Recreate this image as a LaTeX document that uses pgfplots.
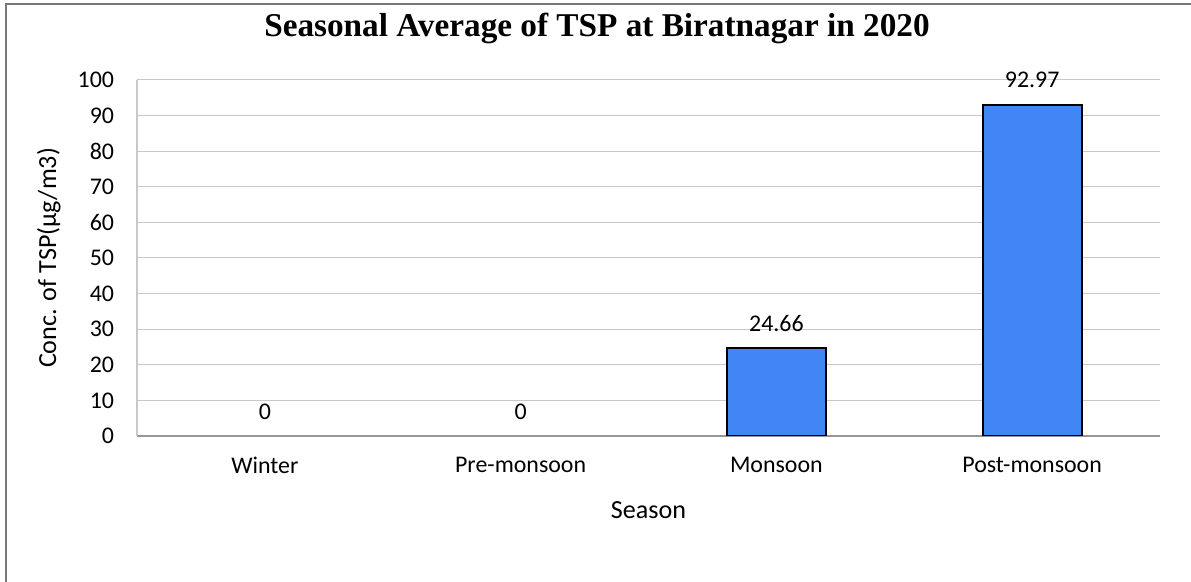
\documentclass[border=0pt]{standalone}
\usepackage{fontspec}
\setmainfont{Carlito}
\newfontfamily\titlefont{Liberation Serif}
\usepackage{pgfplots}
\pgfplotsset{compat=1.18}
\definecolor{barblue}{RGB}{66,133,244}
\definecolor{gridgray}{RGB}{200,200,200}
\definecolor{axisgray}{RGB}{150,150,150}

\begin{document}
\begin{tikzpicture}[x=0.46pt,y=0.46pt]
\useasboundingbox (0,0) rectangle (1191,582);
% chart frame (cut off at right and bottom)
\draw[axisgray!80!black, line width=0.6pt] (6,-5) -- (6,578) -- (1200,578);
\node[font=\titlefont\bfseries\fontsize{15.3}{18}\selectfont] at (597,554) {Seasonal Average of TSP at Biratnagar in 2020};
\begin{axis}[
    at={(63.02pt,67.16pt)}, anchor=south west,
    scale only axis,
    width=470.6pt, height=163.8pt,
    ybar, bar width=45.5pt, bar shift=0pt,
    xmin=-0.5, xmax=3.5,
    ymin=0, ymax=100,
    ytick={0,10,...,100},
    xtick={0,1,2,3},
    xticklabels={Winter, Pre-monsoon, Monsoon, Post-monsoon},
    major tick length=0pt,
    ymajorgrids,
    grid style={gridgray, line width=0.5pt},
    axis x line*=bottom,
    axis y line*=left,
    x axis line style={axisgray, line width=0.7pt, -},
    y axis line style={gridgray, line width=0.5pt, -},
    tick label style={font=\fontsize{11}{13}\selectfont},
    /pgf/number format/assume math mode=true,
    xticklabel style={yshift=-6pt},
    yticklabel style={xshift=-7pt},
    xlabel={Season},
    ylabel={Conc. of TSP(µg/m3)},
    label style={font=\fontsize{12}{14}\selectfont},
    xlabel style={yshift=-6pt},
    ylabel style={yshift=1pt},
    nodes near coords,
    nodes near coords style={font=\fontsize{11}{13}\selectfont, text=black, yshift=4pt},
]
% seasons with no data: label only
\addplot[draw=none, fill=none] coordinates {(0,0) (1,0)};
\addplot[fill=barblue, draw=black, line width=0.9pt] coordinates {(2,24.66) (3,92.97)};
\end{axis}
\end{tikzpicture}
\end{document}
